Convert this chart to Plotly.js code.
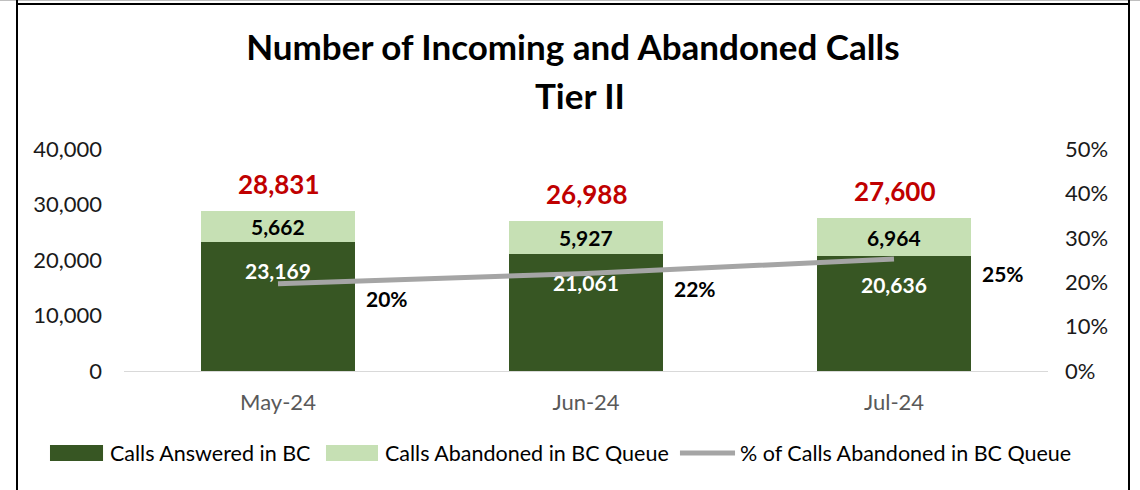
<!DOCTYPE html>
<html>
<head>
<meta charset="utf-8">
<script src="https://cdn.plot.ly/plotly-3.0.1.min.js"></script>
<style>
  html, body { margin: 0; padding: 0; background: #fff; }
  #wrap { position: relative; width: 1140px; height: 490px; overflow: hidden; }
  #chart { position: absolute; left: 0; top: 0; width: 1140px; height: 490px; }
  .ln { position: absolute; background: #000; pointer-events: none; }
</style>
</head>
<body>
<div id="wrap">
  <div id="chart"></div>
  <div class="ln" style="left:0;top:0;width:1140px;height:1px;background:#bfbfbf"></div>
  <div class="ln" style="left:16px;top:3px;width:1114px;height:2px"></div>
  <div class="ln" style="left:16px;top:0;width:2px;height:490px"></div>
  <div class="ln" style="left:1128px;top:0;width:2px;height:490px"></div>
</div>
<script>
const months = ['May-24', 'Jun-24', 'Jul-24'];
const answered = [23169, 21061, 20636];
const abandoned = [5662, 5927, 6964];
const totals = [28831, 26988, 27600];
const pctAbandoned = [0.1964, 0.2196, 0.2523];
const pctLabels = ['20%', '22%', '25%'];
const seriesNames = ['Calls Answered in BC', 'Calls Abandoned in BC Queue', '% of Calls Abandoned in BC Queue'];

const FONT = 'Lato, Carlito, Calibri, sans-serif';
const DARK = '#375623', LIGHT = '#C6E0B4', RED = '#C00000', GRAY = '#A5A5A5';

const fmt = v => v.toLocaleString('en-US');

const traces = [
  { type: 'bar', name: seriesNames[0], x: months, y: answered, width: 0.5,
    marker: { color: DARK }, showlegend: false, hoverinfo: 'x+y' },
  { type: 'bar', name: seriesNames[1], x: months, y: abandoned, width: 0.5,
    marker: { color: LIGHT }, showlegend: false, hoverinfo: 'x+y' },
  { type: 'scatter', mode: 'lines', name: seriesNames[2], x: months, y: pctAbandoned,
    yaxis: 'y2', line: { color: GRAY, width: 5 }, showlegend: false, hoverinfo: 'x+y' }
];

const annotations = [];
months.forEach((m, i) => {
  annotations.push({ x: m, y: totals[i], xref: 'x', yref: 'y', text: fmt(totals[i]),
    showarrow: false, yanchor: 'middle', yshift: 27,
    font: { family: FONT, size: 26, color: RED, weight: 'bold' } });
  annotations.push({ x: m, y: answered[i] + abandoned[i] / 2, xref: 'x', yref: 'y', text: fmt(abandoned[i]),
    showarrow: false, yanchor: 'middle',
    font: { family: FONT, size: 21, color: '#000', weight: 'bold' } });
  annotations.push({ x: m, y: answered[i], xref: 'x', yref: 'y', text: fmt(answered[i]),
    showarrow: false, yanchor: 'middle', yshift: -28,
    font: { family: FONT, size: 21, color: '#fff', weight: 'bold' } });
  annotations.push({ x: m, y: pctAbandoned[i], xref: 'x', yref: 'y2', text: pctLabels[i],
    showarrow: false, yanchor: 'middle', xanchor: 'center', xshift: 109, yshift: -15,
    font: { family: FONT, size: 21, color: '#000', weight: 'bold' } });
});

// second title line
annotations.push({ xref: 'paper', yref: 'paper', x: 0.4935, y: 1.243, text: 'Tier II',
  showarrow: false, xanchor: 'center', yanchor: 'middle',
  font: { family: FONT, size: 35, color: '#000', weight: 'bold' } });

// legend (custom, drawn below the plot)
const legendItems = [
  { x0: -0.0801, x1: -0.0227, tx: -0.0173, kind: 'rect', color: DARK, text: seriesNames[0] },
  { x0: 0.2186, x1: 0.2749, tx: 0.2803, kind: 'rect', color: LIGHT, text: seriesNames[1] },
  { x0: 0.6017, x1: 0.6613, tx: 0.6645, kind: 'line', color: GRAY, text: seriesNames[2] }
];
const shapes = [];
legendItems.forEach(it => {
  if (it.kind === 'rect') {
    shapes.push({ type: 'rect', xref: 'paper', yref: 'paper', x0: it.x0, x1: it.x1, y0: -0.405, y1: -0.333,
      fillcolor: it.color, line: { width: 0 } });
  } else {
    shapes.push({ type: 'line', xref: 'paper', yref: 'paper', x0: it.x0, x1: it.x1, y0: -0.369, y1: -0.369,
      line: { color: it.color, width: 5 } });
  }
  annotations.push({ xref: 'paper', yref: 'paper', x: it.tx, y: -0.369, text: it.text,
    showarrow: false, xanchor: 'left', yanchor: 'middle',
    font: { family: FONT, size: 21.5, color: '#000' } });
});

const layout = {
  width: 1140, height: 490,
  margin: { l: 124, r: 92, t: 149, b: 119 },
  paper_bgcolor: '#fff', plot_bgcolor: '#fff',
  barmode: 'stack',
  showlegend: false,
  title: { text: 'Number of Incoming and Abandoned Calls', x: 0.5025, xanchor: 'center',
    y: 0.902, yanchor: 'middle', yref: 'container',
    font: { family: FONT, size: 35, color: '#000', weight: 'bold' } },
  xaxis: { type: 'category', showline: true, linecolor: '#D9D9D9', linewidth: 1,
    ticks: '', showgrid: false, zeroline: false, ticklabelstandoff: 12,
    tickfont: { family: FONT, size: 22, color: '#595959' } },
  yaxis: { range: [0, 40000], dtick: 10000, tickformat: ',d', showgrid: false, zeroline: false,
    showline: false, ticks: '', ticklabelstandoff: 21,
    tickfont: { family: FONT, size: 22, color: '#1a1a1a' } },
  yaxis2: { overlaying: 'y', side: 'right', range: [0, 0.5], dtick: 0.1, tickformat: '.0%',
    showgrid: false, zeroline: false, showline: false, ticks: '', ticklabelstandoff: 16,
    tickfont: { family: FONT, size: 22, color: '#1a1a1a' } },
  annotations: annotations,
  shapes: shapes,
  font: { family: FONT }
};

Plotly.newPlot('chart', traces, layout, { displayModeBar: false, staticPlot: true });
</script>
</body>
</html>
